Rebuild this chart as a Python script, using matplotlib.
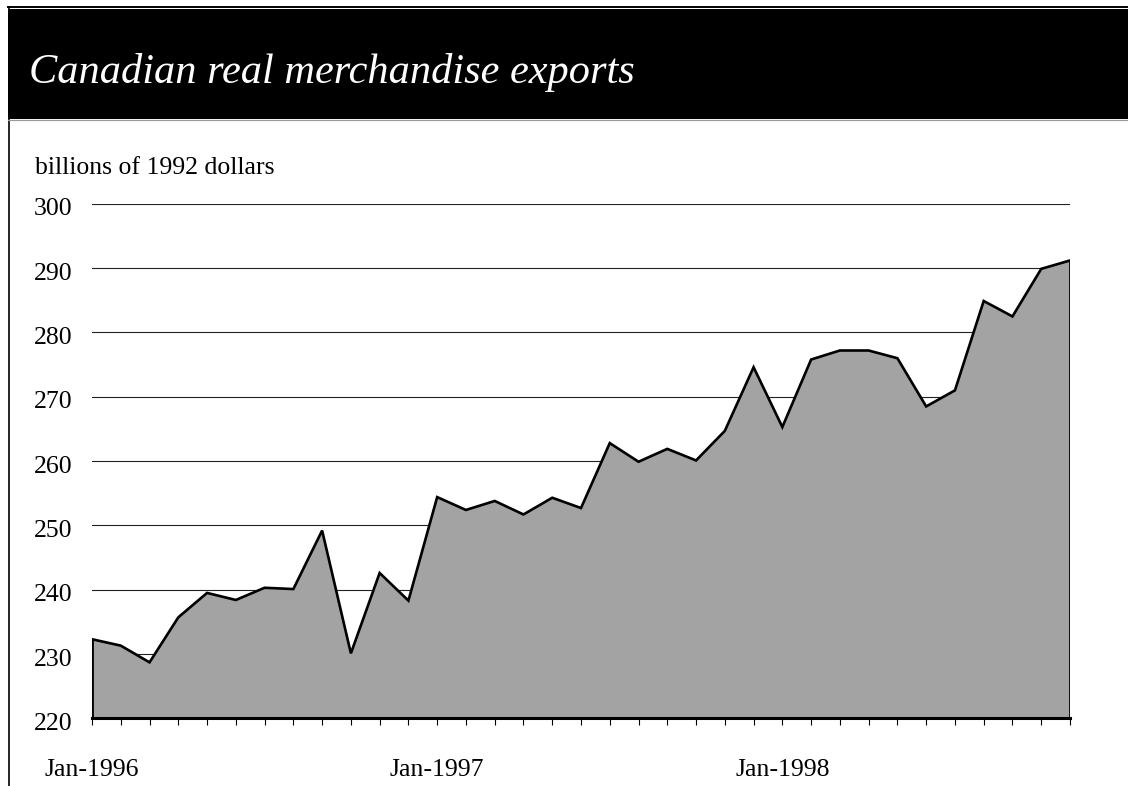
import numpy as np
import pandas as pd
import matplotlib
matplotlib.use("Agg")
import matplotlib.pyplot as plt
from matplotlib.patches import Rectangle
from matplotlib.lines import Line2D
from matplotlib.ticker import FixedLocator
from matplotlib.transforms import ScaledTranslation

# monthly real merchandise exports, billions of 1992 dollars
months = pd.date_range("1996-01-01", "1998-11-01", freq="MS")
exports = [232.3, 231.3, 228.7, 235.7, 239.5, 238.4, 240.3, 240.1, 249.2, 230.1,
           242.6, 238.3, 254.4, 252.4, 253.8, 251.7, 254.3, 252.7, 262.8, 259.9,
           261.9, 260.1, 264.7, 274.6, 265.3, 275.8, 277.2, 277.2, 276.0, 268.5,
           271.0, 284.9, 282.5, 289.9, 291.2]
y_ticks = [220, 230, 240, 250, 260, 270, 280, 290, 300]

SERIF = ["Liberation Serif", "DejaVu Serif"]
plt.rcParams["font.family"] = SERIF

W, H = 1128, 786
fig = plt.figure(figsize=(W / 100, H / 100), dpi=100)

# frame + black header band
fig.patches.append(Rectangle((8 / W, 1 - 119 / H), 1, 110 / H, transform=fig.transFigure,
                             facecolor="black", edgecolor="none", zorder=0))
fig.lines.append(Line2D([8 / W, 1], [1 - 6.5 / H] * 2, transform=fig.transFigure,
                        color="black", lw=1.4))
fig.lines.append(Line2D([9 / W] * 2, [0, 1 - 6.5 / H], transform=fig.transFigure,
                        color="black", lw=1.2))
fig.lines.append(Line2D([8 / W, 1], [1 - 119.5 / H] * 2, transform=fig.transFigure,
                        color="#9a9a9a", lw=0.9))
fig.text(29 / W, 1 - 72 / H, "Canadian real merchandise exports", color="white",
         fontsize=30.5, fontstyle="italic", va="center", ha="left")
fig.text(35 / W, 1 - 168 / H, "billions of 1992 dollars", fontsize=18.5,
         va="center", ha="left")

x0, x1 = 92, 1070
yb, yt = 718.3, 203.9
ax = fig.add_axes([x0 / W, 1 - yb / H, (x1 - x0) / W, (yb - yt) / H])

x = np.arange(len(exports))
ax.fill_between(x, exports, y_ticks[0], facecolor="#a3a3a3", edgecolor="none", zorder=2)
ax.plot(x, exports, color="black", lw=1.9, zorder=3, solid_joinstyle="miter")
ax.vlines([x[0], x[-1]], y_ticks[0], [exports[0], exports[-1]], color="black", lw=2.0, zorder=3)

ax.set_xlim(x[0], x[-1])
ax.set_ylim(y_ticks[0], y_ticks[-1])
ax.set_yticks(y_ticks)
ax.set_yticklabels([str(v) for v in y_ticks], fontsize=18.5)
ax.yaxis.grid(True, color="#222222", lw=0.8, zorder=1)
ax.set_axisbelow(True)

jan = [i for i, m in enumerate(months) if m.month == 1]
ax.set_xticks(jan)
ax.set_xticklabels([months[i].strftime("Jan-%Y") for i in jan], fontsize=18.5)
ax.xaxis.set_minor_locator(FixedLocator(x))
ax.tick_params(axis="x", which="both", direction="out", length=5, width=0.8, pad=24)
ax.tick_params(axis="y", length=0, pad=14)

# nudge y labels slightly below their gridlines
shift = ScaledTranslation(0, -3 / 100, fig.dpi_scale_trans)
for lab in ax.get_yticklabels():
    lab.set_transform(lab.get_transform() + shift)

for s in ("top", "right", "left"):
    ax.spines[s].set_visible(False)
ax.spines["bottom"].set_linewidth(2.2)
ax.spines["bottom"].set_zorder(4)

fig.savefig("out.png", dpi=100)
